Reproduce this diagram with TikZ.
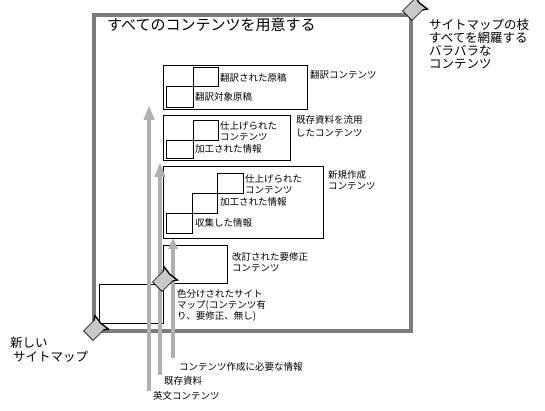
\documentclass[tikz,border=0pt]{standalone}
\usepackage{fontspec}
\setmainfont{Noto Sans CJK JP}
\usetikzlibrary{arrows.meta}
\definecolor{framegray}{HTML}{7C7C7C}
\definecolor{feedgray}{HTML}{B0B0B0}
\definecolor{taggray}{HTML}{C8C8C8}
\tikzset{
  frame/.style={draw=framegray, line width=4pt, inner sep=0pt, outer sep=0pt, anchor=north west},
  box/.style={draw=black, line width=0.8pt, inner sep=0pt, outer sep=0pt, anchor=north west},
  lbl/.style={inner sep=0pt, anchor=west, align=left, font=\fontsize{9.5}{11}\selectfont},
  biglbl/.style={inner sep=0pt, anchor=west, align=left, font=\fontsize{12.5}{13}\selectfont},
  feed/.style={draw=feedgray, line width=#1, -{Triangle[length=15pt,width=10pt]}},
  feed/.default=4.5pt,
  tagmark/.pic={
    \begin{scope}[rotate=45, scale=1.35]
      \filldraw[fill=taggray, draw=black, line width=0.6pt]
        (-7,-5) -- (4,-5) -- (7,-7) -- (6,0) -- (7,7) -- (4,5) -- (-7,5) -- cycle;
      \draw[black, line width=1.3pt] (4,-5) -- (7,-7) -- (6,0) -- (7,7) -- (4,5);
    \end{scope}
  }
}
\begin{document}
\begin{tikzpicture}[x=1pt, y=-1pt]
\useasboundingbox (0,0) rectangle (545,411);

% outer frame
\node[frame, minimum width=317pt, minimum height=316pt] (frame) at (93.5,15) {};
\node[inner sep=0pt, anchor=west, font=\fontsize{15}{18}\selectfont] (title) at (107,25) {すべてのコンテンツを用意する};

% translated contents
\node[box, minimum width=144pt, minimum height=44pt] (b1) at (163,65) {};
\node[box, minimum width=25pt, minimum height=19pt] (b1a) at (193,67) {};
\node[box, minimum width=27pt, minimum height=21pt] (b1b) at (166,86) {};
\node[lbl] (t1a) at (220,78) {翻訳された原稿};
\node[lbl] (t1b) at (195,97) {翻訳対象原稿};
\node[lbl] (t1) at (310,75) {翻訳コンテンツ};

% reused contents
\node[box, minimum width=127pt, minimum height=45pt] (b2) at (163,115) {};
\node[box, minimum width=25pt, minimum height=20pt] (b2a) at (193,120) {};
\node[box, minimum width=27pt, minimum height=18pt] (b2b) at (166,140) {};
\node[lbl] (t2a) at (220,131) {仕上げられた\\コンテンツ};
\node[lbl] (t2b) at (195,149) {加工された情報};
\node[lbl, font=\fontsize{9.5}{13}\selectfont] (t2) at (296,126.5) {既存資料を流用\\したコンテンツ};

% new contents
\node[box, minimum width=160pt, minimum height=72pt] (b3) at (163,166) {};
\node[box, minimum width=26pt, minimum height=20pt] (b3c) at (217,173) {};
\node[box, minimum width=25pt, minimum height=20pt] (b3b) at (192,193) {};
\node[box, minimum width=26pt, minimum height=20pt] (b3a) at (166,213) {};
\node[lbl] (t3c) at (245,184.5) {仕上げられた\\コンテンツ};
\node[lbl] (t3b) at (220,202) {加工された情報};
\node[lbl] (t3a) at (195,223) {収集した情報};
\node[lbl] (t3) at (328,180.5) {新規作成\\コンテンツ};

% revised contents
\node[box, minimum width=64pt, minimum height=38pt] (b4) at (163,245) {};
\node[lbl] (t4) at (232,262) {改訂された要修正\\コンテンツ};

% colored sitemap
\node[box, minimum width=64pt, minimum height=39pt] (b5) at (99,284) {};

% feeding arrows
\coordinate (a1s) at (149,391);
\coordinate (a1e) at (149,105);
\coordinate (a2s) at (160,375);
\coordinate (a2e) at (160,162);
\coordinate (a3s) at (173,358);
\draw[feed=4.8pt] (a1s) -- (a1e);
\draw[feed=4.5pt] (a2s) -- (a2e);
\draw[draw=feedgray, line width=4pt, -{Triangle[length=11pt,width=9pt]}] (a3s) -- (a3s |- b3.south);

\node[lbl, fill=white, inner sep=1pt] (t5) at (176,305) {色分けされたサイト\\マップ(コンテンツ有\\り、要修正、無し)};

\node[lbl] (ta3) at (179,367) {コンテンツ作成に必要な情報};
\node[lbl] (ta2) at (164,381) {既存資料};
\node[lbl] (ta1) at (153,396) {英文コンテンツ};

% right / left labels
\node[biglbl] (tr) at (429,44) {サイトマップの枝\\すべてを網羅する\\バラバラな\\コンテンツ};
\node[biglbl] (tl1) at (10,343) {新しい};
\node[biglbl] (tl2) at (13,357) {サイトマップ};

% markers
\pic at (414,9) {tagmark};
\pic at (95,329) {tagmark};
\pic at (164,280) {tagmark};
\end{tikzpicture}
\end{document}
